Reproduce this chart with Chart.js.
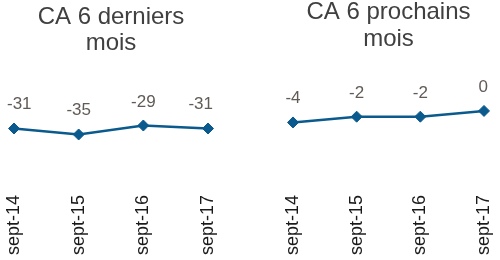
<!DOCTYPE html>
<html>
<head>
<meta charset="utf-8">
<script src="https://cdn.jsdelivr.net/npm/chart.js@4/dist/chart.umd.min.js"></script>
<style>
  html, body { margin: 0; padding: 0; background: #ffffff; }
  #wrap { position: relative; width: 500px; height: 260px; overflow: hidden; }
  .box { position: absolute; top: 0; height: 260px; }
  #b1 { left: 0; width: 250px; }
  #b2 { left: 250px; width: 259px; }
</style>
</head>
<body>
<div id="wrap">
  <div class="box" id="b1"><canvas id="c1" width="250" height="260"></canvas></div>
  <div class="box" id="b2"><canvas id="c2" width="259" height="260"></canvas></div>
</div>
<script>
// ---- data ----
const categories = ['sept-14', 'sept-15', 'sept-16', 'sept-17'];
const caDerniers = [-31, -35, -29, -31];
const caProchains = [-4, -2, -2, 0];
const titleDerniers = ['CA 6 derniers', 'mois'];
const titleProchains = ['CA 6 prochains', 'mois'];

const FONT = "'Liberation Sans', Arial, Helvetica, sans-serif";
const LINE_COLOR = '#0b5a8e';

const valueLabels = {
  id: 'valueLabels',
  afterDatasetsDraw(chart, args, opts) {
    const ctx = chart.ctx;
    const meta = chart.getDatasetMeta(0);
    const data = chart.data.datasets[0].data;
    ctx.save();
    ctx.font = opts.size + 'px ' + FONT;
    ctx.fillStyle = opts.color;
    ctx.textAlign = 'center';
    ctx.textBaseline = 'alphabetic';
    meta.data.forEach((pt, i) => {
      const txt = String(data[i]);
      const w = ctx.measureText(txt).width;
      let x = pt.x;
      x = Math.max(opts.minX + w / 2, Math.min(opts.maxX - w / 2, x));
      ctx.fillText(txt, x, pt.y - opts.offset);
    });
    ctx.restore();
  }
};

function makeChart(canvasId, values, title, cfg) {
  return new Chart(document.getElementById(canvasId), {
    type: 'line',
    data: {
      labels: categories,
      datasets: [{
        data: values,
        borderColor: LINE_COLOR,
        backgroundColor: LINE_COLOR,
        borderWidth: 2.5,
        pointStyle: 'rectRot',
        pointRadius: 5.5,
        pointBorderWidth: 1,
        pointBackgroundColor: LINE_COLOR,
        pointBorderColor: LINE_COLOR,
        tension: 0,
        fill: false
      }]
    },
    options: {
      responsive: false,
      animation: false,
      devicePixelRatio: 1,
      layout: { padding: cfg.padding },
      plugins: {
        legend: { display: false },
        tooltip: { enabled: false },
        title: {
          display: true,
          text: title,
          color: '#404040',
          font: { family: FONT, size: 24, weight: 'normal', lineHeight: cfg.titleLH },
          padding: cfg.titlePad
        },
        valueLabels: { size: 17, color: '#615a57', offset: 19, minX: cfg.minX, maxX: cfg.maxX }
      },
      scales: {
        x: {
          offset: false,
          grid: { display: false },
          border: { display: false },
          ticks: {
            color: '#1a1a1a',
            font: { family: FONT, size: 18 },
            minRotation: 90,
            maxRotation: 90,
            autoSkip: false,
            padding: 3
          }
        },
        y: {
          display: false,
          min: cfg.yMin,
          max: cfg.yMax
        }
      }
    },
    plugins: [valueLabels]
  });
}

makeChart('c1', caDerniers, titleDerniers, {
  padding: { left: 14, right: 42, top: 0, bottom: 2 },
  titleLH: 1.08,
  titlePad: { top: 4, bottom: 10 },
  minX: 7, maxX: 213,
  yMin: -68, yMax: 10.8
});

makeChart('c2', caProchains, titleProchains, {
  padding: { left: 43, right: 25, top: 0, bottom: 2 },
  titleLH: 1.12,
  titlePad: { top: -1, bottom: 10 },
  minX: 0, maxX: 238,
  yMin: -25.4, yMax: 16.76
});
</script>
</body>
</html>
